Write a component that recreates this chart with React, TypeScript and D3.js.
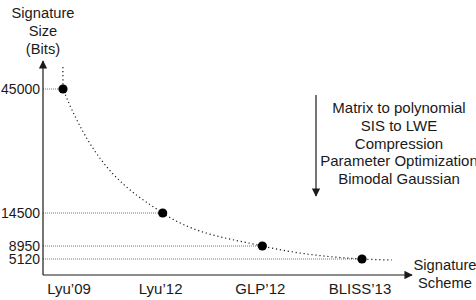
import React from 'react';
import * as d3 from 'd3';

// chart data
const schemes = ['Lyu’09', 'Lyu’12', 'GLP’12', 'BLISS’13'];
const sizes = [45000, 14500, 8950, 5120];
const sizeTicks = [45000, 14500, 8950, 5120];
// trend curve: a lead-in above the first scheme and a tail past the last (index, bits)
const trendIdx = [-0.001, 0, 1, 2, 3, 3.3];
const trendBits = [50400, 45000, 14500, 8950, 5120, 4830];
const steps = ['Matrix to polynomial', 'SIS to LWE', 'Compression', 'Parameter Optimization', 'Bimodal Gaussian'];
const yTitle = ['Signature', 'Size', '(Bits)'];
const xTitle = ['Signature', 'Scheme'];

const width = 476;
const height = 300;
const font = '"Liberation Sans", Arial, sans-serif';
const ink = '#1a1a1a';

const App = () => {
    const axisX = 43;
    const axisY = 275;

    const x = d3.scaleLinear().domain([0, schemes.length - 1]).range([63, 362]);
    // schematic (non-linear) size axis
    const y = d3.scaleLinear().domain([5120, 8950, 14500, 45000]).range([259, 246, 213, 89]);

    const trend = d3.line<number>()
        .x(i => x(trendIdx[i]))
        .y(i => y(trendBits[i]))
        .curve(d3.curveMonotoneX);

    return (
        <svg width={width} height={height} style={{position: 'absolute', left: 0, top: 0}} fontFamily={font}>
            <defs>
                <marker id="arr" viewBox="0 0 10 10" refX="9" refY="5" markerWidth="7" markerHeight="7" orient="auto">
                    <path d="M0,0 L10,5 L0,10 z" fill={ink}/>
                </marker>
            </defs>

            {/* guide lines */}
            {sizes.map((v, i) => (
                <line key={'g' + i} x1={axisX} x2={x(i)} y1={y(v)} y2={y(v)}
                      stroke="#777" strokeWidth={1} strokeDasharray="1 1"/>
            ))}

            {/* trend curve */}
            <path d={trend(trendIdx.map((_, i) => i)) || ''} fill="none" stroke={ink}
                  strokeWidth={1.2} strokeDasharray="1.2 2.8"/>

            {/* axes */}
            <line x1={axisX} x2={axisX} y1={axisY} y2={61} stroke={ink} strokeWidth={1.2} markerEnd="url(#arr)"/>
            <line x1={axisX} x2={412} y1={axisY} y2={axisY} stroke={ink} strokeWidth={1.2} markerEnd="url(#arr)"/>

            {/* points */}
            {sizes.map((v, i) => (
                <circle key={'p' + i} cx={x(i)} cy={y(v)} r={4.6} fill="#000"/>
            ))}

            {/* y ticks */}
            {sizeTicks.map(v => (
                <text key={'t' + v} x={40} y={y(v) + 5} textAnchor="end" fontSize={14} fill={ink}>{v}</text>
            ))}

            {/* x labels */}
            {schemes.map((s, i) => (
                <text key={'s' + i} x={x(i) + (i === 0 ? 6 : -2)} y={294} textAnchor="middle" fontSize={15} fill={ink}>{s}</text>
            ))}

            {/* axis titles */}
            {yTitle.map((t, i) => (
                <text key={'yt' + i} x={axisX} y={18 + i * 18} textAnchor="middle" fontSize={14.7} fill={ink}>{t}</text>
            ))}
            {xTitle.map((t, i) => (
                <text key={'xt' + i} x={445} y={270 + i * 18} textAnchor="middle" fontSize={14.7} fill={ink}>{t}</text>
            ))}

            {/* optimization steps */}
            <line x1={316} x2={316} y1={95} y2={196} stroke={ink} strokeWidth={1.2} markerEnd="url(#arr)"/>
            {steps.map((t, i) => (
                <text key={'st' + i} x={399} y={113 + i * 17.8} textAnchor="middle" fontSize={15} fill={ink}>{t}</text>
            ))}
        </svg>
    );
};

export default App;
